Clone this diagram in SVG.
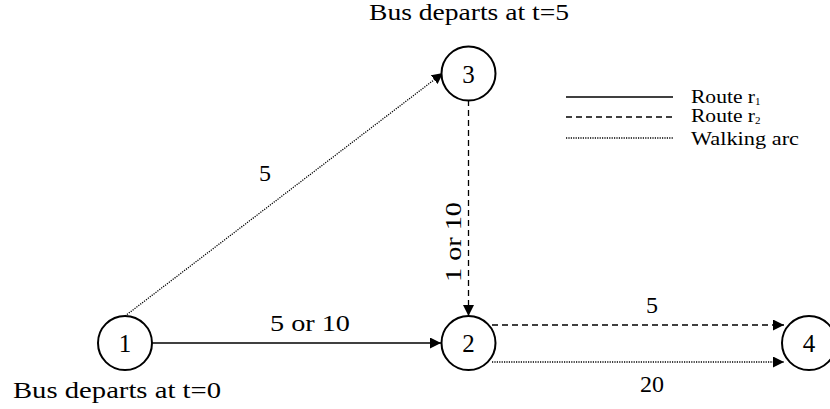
<svg xmlns="http://www.w3.org/2000/svg" width="830" height="409" viewBox="0 0 830 409" font-family="'Liberation Serif', 'Times New Roman', 'DejaVu Serif', serif">
<style>
text{font-family:"Liberation Serif","Times New Roman","DejaVu Serif",serif;font-size:24px;fill:#000}
.n circle{fill:#fff;stroke:#000;stroke-width:2}
.n text{text-anchor:middle;font-size:25px}
.e{stroke:#000;stroke-width:1.3;fill:none}
.dash{stroke-dasharray:6 4}
.dot{stroke-dasharray:1.2 1.2}
.lbl{text-anchor:middle}
.leg{font-size:18px}
.sub{font-size:11px}
</style>
<defs>
<marker id="ah" viewBox="0 0 10 10" refX="10" refY="5" markerWidth="11" markerHeight="11" markerUnits="userSpaceOnUse" orient="auto">
<path d="M0,0 L10,5 L0,10 Z" fill="#000"/>
</marker>
</defs>
<g id="connectors">
<line class="e" x1="152" y1="343" x2="441" y2="343" marker-end="url(#ah)"/>
<line class="e dot" x1="125" y1="316" x2="443" y2="73" marker-end="url(#ah)"/>
<line class="e dash" x1="468.5" y1="100" x2="468.5" y2="316" marker-end="url(#ah)"/>
<line class="e dash" x1="492" y1="325" x2="784" y2="325" marker-end="url(#ah)"/>
<line class="e dot" x1="492" y1="362" x2="784" y2="362" marker-end="url(#ah)"/>
<text class="lbl" x="310" y="331" textLength="80" lengthAdjust="spacingAndGlyphs">5 or 10</text>
<text class="lbl" x="265" y="181">5</text>
<text class="lbl" transform="translate(461,242) rotate(-90)" textLength="80" lengthAdjust="spacingAndGlyphs">1 or 10</text>
<text class="lbl" x="652" y="313">5</text>
<text class="lbl" x="652" y="392">20</text>
</g>
<g id="n1" class="n"><circle cx="125" cy="343" r="27"/><text x="125" y="352">1</text></g>
<g id="n2" class="n"><circle cx="468.5" cy="343" r="27"/><text x="468.5" y="352">2</text></g>
<g id="n3" class="n"><circle cx="468.5" cy="73.5" r="27"/><text x="468.5" y="82.5">3</text></g>
<g id="n4" class="n"><circle cx="809" cy="343" r="27"/><text x="809" y="352">4</text></g>
<g id="captions">
<text class="lbl" x="117" y="398" textLength="208" lengthAdjust="spacingAndGlyphs">Bus departs at t=0</text>
<text class="lbl" x="469" y="20" textLength="200" lengthAdjust="spacingAndGlyphs">Bus departs at t=5</text>
</g>
<g id="legend">
<line class="e" x1="566" y1="97" x2="673" y2="97"/>
<line class="e dash" x1="566" y1="117" x2="673" y2="117"/>
<line class="e dot" x1="566" y1="138" x2="673" y2="138"/>
<text class="leg" x="691" y="103"><tspan textLength="64" lengthAdjust="spacingAndGlyphs">Route r</tspan><tspan class="sub" dy="2">1</tspan></text>
<text class="leg" x="691" y="122"><tspan textLength="64" lengthAdjust="spacingAndGlyphs">Route r</tspan><tspan class="sub" dy="2">2</tspan></text>
<text class="leg" x="691" y="145" textLength="108" lengthAdjust="spacingAndGlyphs">Walking arc</text>
</g>
</svg>
